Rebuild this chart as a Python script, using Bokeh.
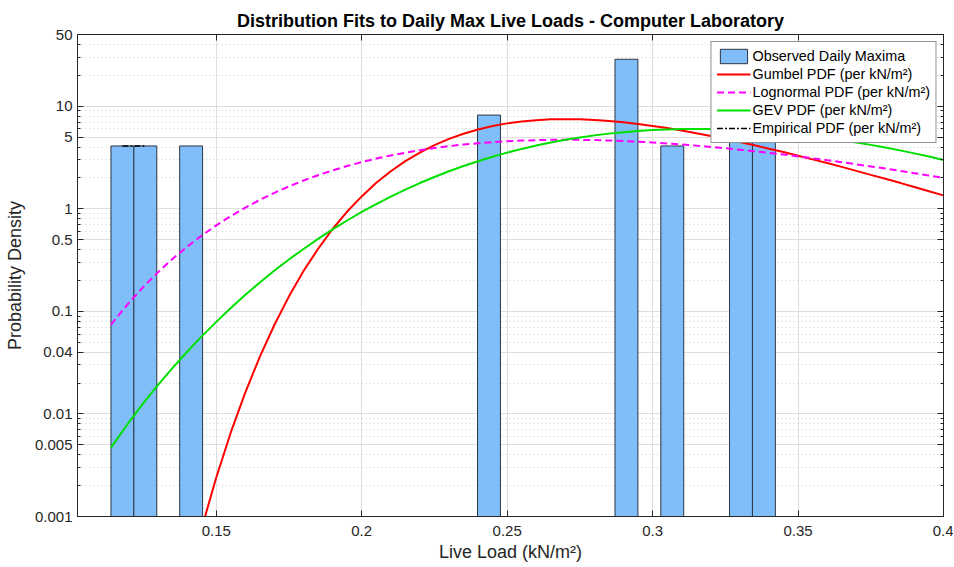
import numpy as np
from bokeh.plotting import figure
from bokeh.models import (Range1d, FixedTicker, LinearAxis, LogAxis, PrintfTickFormatter,
                          CustomJSTickFormatter)
from bokeh.embed import file_html
from bokeh.resources import INLINE

# ---------------- data ----------------
bin_start = 0.1138
bin_width = 0.007876
bin_counts = [1, 1, 0, 1, 0, 0, 0, 0, 0, 0, 0, 0, 0, 0, 0, 0, 2, 0, 0, 0, 0, 0, 7, 0, 1, 0, 0, 10, 8]

curve_x = [0.1138, 0.12, 0.125, 0.13, 0.135, 0.14, 0.145, 0.15,
           0.155, 0.16, 0.165, 0.17, 0.175, 0.18, 0.185, 0.19, 0.195, 0.2,
           0.205, 0.21, 0.215, 0.22, 0.225, 0.23, 0.235, 0.24, 0.245, 0.25,
           0.255, 0.26, 0.265, 0.27, 0.275, 0.28, 0.285, 0.29, 0.295, 0.3,
           0.305, 0.31, 0.315, 0.32, 0.325, 0.33, 0.335, 0.34, 0.345, 0.35,
           0.355, 0.36, 0.365, 0.37, 0.375, 0.38, 0.385, 0.39, 0.395, 0.4]

gumbel_pdf = [1.7e-9, 2.9e-7, 2.0e-6, 1.1e-5, 5.5e-5, 2.2e-4, 7.7e-4, 2.4e-3,
              6.6e-3, 0.0162, 0.0362, 0.074, 0.140, 0.247, 0.407, 0.635, 0.94, 1.32,
              1.79, 2.32, 2.91, 3.53, 4.17, 4.80, 5.39, 5.93, 6.41, 6.80,
              7.10, 7.31, 7.44, 7.48, 7.44, 7.34, 7.17, 6.96, 6.71, 6.42,
              6.12, 5.80, 5.46, 5.13, 4.80, 4.48, 4.16, 3.85, 3.57, 3.29,
              3.03, 2.79, 2.56, 2.34, 2.14, 1.96, 1.79, 1.63, 1.48, 1.35]

lognormal_pdf = [0.0743, 0.1216, 0.174, 0.241, 0.325, 0.427, 0.549, 0.689,
                 0.849, 1.026, 1.221, 1.431, 1.653, 1.886, 2.124, 2.368, 2.610, 2.851,
                 3.086, 3.311, 3.525, 3.726, 3.910, 4.078, 4.227, 4.356, 4.465, 4.553,
                 4.621, 4.669, 4.697, 4.707, 4.699, 4.673, 4.632, 4.576, 4.508, 4.427,
                 4.336, 4.236, 4.127, 4.012, 3.891, 3.766, 3.638, 3.506, 3.375, 3.241,
                 3.107, 2.976, 2.845, 2.715, 2.588, 2.464, 2.342, 2.224, 2.109, 1.998]

gev_pdf = [0.0047, 0.0083, 0.0128, 0.0192, 0.0281, 0.0404, 0.0570, 0.0790,
           0.1080, 0.1449, 0.1915, 0.2498, 0.3208, 0.4058, 0.5086, 0.6294, 0.7687, 0.9305,
           1.111, 1.316, 1.536, 1.782, 2.042, 2.319, 2.610, 2.908, 3.217, 3.527,
           3.834, 4.135, 4.426, 4.702, 4.960, 5.194, 5.403, 5.584, 5.734, 5.852,
           5.936, 5.986, 6.003, 5.987, 5.939, 5.861, 5.754, 5.621, 5.466, 5.289,
           5.094, 4.885, 4.664, 4.434, 4.196, 3.954, 3.711, 3.468, 3.226, 2.99]

x_ticks = [0.15, 0.2, 0.25, 0.3, 0.35, 0.4]
y_ticks = [0.001, 0.005, 0.01, 0.04, 0.1, 0.5, 1, 5, 10, 50]

title_text = "Distribution Fits to Daily Max Live Loads - Computer Laboratory"
x_label = "Live Load (kN/m²)"
y_label = "Probability Density"

# ---------------- derived ----------------
counts = np.array(bin_counts, dtype=float)
n_obs = counts.sum()
lefts = bin_start + np.arange(len(counts)) * bin_width
rights = lefts + bin_width
centers = lefts + bin_width / 2
density = counts / (n_obs * bin_width)
nz = counts > 0
emp = np.where(nz, density, np.nan)

y_minor = [m * 10.0 ** k for k in range(-3, 2) for m in range(2, 10) if m * 10.0 ** k < 50]

FONT = "Liberation Sans"
AX = "#262626"

p = figure(frame_width=866, frame_height=482,
           x_range=Range1d(0.1023, 0.4), y_range=Range1d(0.001, 50),
           y_axis_type="log", output_backend="svg", toolbar_location=None,
           min_border_left=77, min_border_right=10, min_border_top=34, min_border_bottom=48,
           title=title_text)
p.background_fill_color = "white"
p.border_fill_color = "white"
p.outline_line_color = AX
p.outline_line_width = 1

p.title.text_font = FONT
p.title.text_font_size = "18px"
p.title.text_font_style = "bold"
p.title.text_color = "#000000"
p.title.align = "center"
p.title.standoff = 8

# bars
p.quad(left=lefts[nz], right=rights[nz], bottom=1e-4, top=density[nz],
       fill_color="#80BEFA", line_color="#2b3642", line_width=1,
       legend_label="Observed Daily Maxima")

p.line(curve_x, gumbel_pdf, line_color="#FF0000", line_width=2,
       legend_label="Gumbel PDF (per kN/m²)")
p.line(curve_x, lognormal_pdf, line_color="#FF00FF", line_width=2, line_dash="7 4",
       legend_label="Lognormal PDF (per kN/m²)")
p.line(curve_x, gev_pdf, line_color="#00E000", line_width=2,
       legend_label="GEV PDF (per kN/m²)")
p.line(centers, emp, line_color="#000000", line_width=1.6, line_dash="6 2 2 2",
       legend_label="Empirical PDF (per kN/m²)")

# axes
xt = FixedTicker(ticks=x_ticks, minor_ticks=[])
yt = FixedTicker(ticks=y_ticks, minor_ticks=y_minor)
fmt = PrintfTickFormatter(format="%g")

xa = p.xaxis[0]
xa.ticker = xt
xa.formatter = fmt
ya = p.yaxis[0]
ya.ticker = yt
ya.formatter = fmt

for a in (xa, ya):
    a.axis_line_color = AX
    a.major_tick_line_color = AX
    a.minor_tick_line_color = AX
    a.major_tick_in = 6
    a.major_tick_out = 0
    a.minor_tick_in = 3
    a.minor_tick_out = 0
    a.major_label_text_font = FONT
    a.major_label_text_font_size = "15px"
    a.major_label_text_color = AX
    a.axis_label_text_font = FONT
    a.axis_label_text_font_size = "18px"
    a.axis_label_text_font_style = "normal"
    a.axis_label_text_color = AX
xa.minor_tick_line_color = None
xa.axis_label = x_label
ya.axis_label = y_label
xa.major_label_standoff = 9
xa.axis_label_standoff = 3
ya.major_label_standoff = 5
ya.axis_label_standoff = 7

blank = CustomJSTickFormatter(code="return ''")
top_ax = LinearAxis(ticker=xt, formatter=blank)
right_ax = LogAxis(ticker=yt, formatter=blank)
for a in (top_ax, right_ax):
    a.axis_line_color = AX
    a.major_tick_line_color = AX
    a.minor_tick_line_color = AX
    a.major_tick_in = 6
    a.major_tick_out = 0
    a.minor_tick_in = 3
    a.minor_tick_out = 0
    a.major_label_standoff = 0
    a.major_label_text_font_size = "13px"
top_ax.minor_tick_line_color = None
p.add_layout(top_ax, "above")
p.add_layout(right_ax, "right")

# grids
p.xgrid.ticker = xt
p.ygrid.ticker = yt
p.xgrid.grid_line_color = "#dedede"
p.ygrid.grid_line_color = "#dedede"
p.ygrid.minor_grid_line_color = "#cfcfcf"
p.ygrid.minor_grid_line_dash = "1 3"

# legend
lg = p.legend[0]
lg.location = "top_right"
lg.margin = 7
lg.padding = 5
lg.spacing = 0
lg.glyph_width = 34
lg.glyph_height = 18
lg.label_height = 18
lg.label_standoff = 2
lg.label_text_font = FONT
lg.label_text_font_size = "14.4px"
lg.label_text_color = "#000000"
lg.border_line_color = AX
lg.border_line_width = 1
lg.background_fill_color = "white"
lg.background_fill_alpha = 1.0

open("out.html", "w").write(file_html(p, INLINE))
